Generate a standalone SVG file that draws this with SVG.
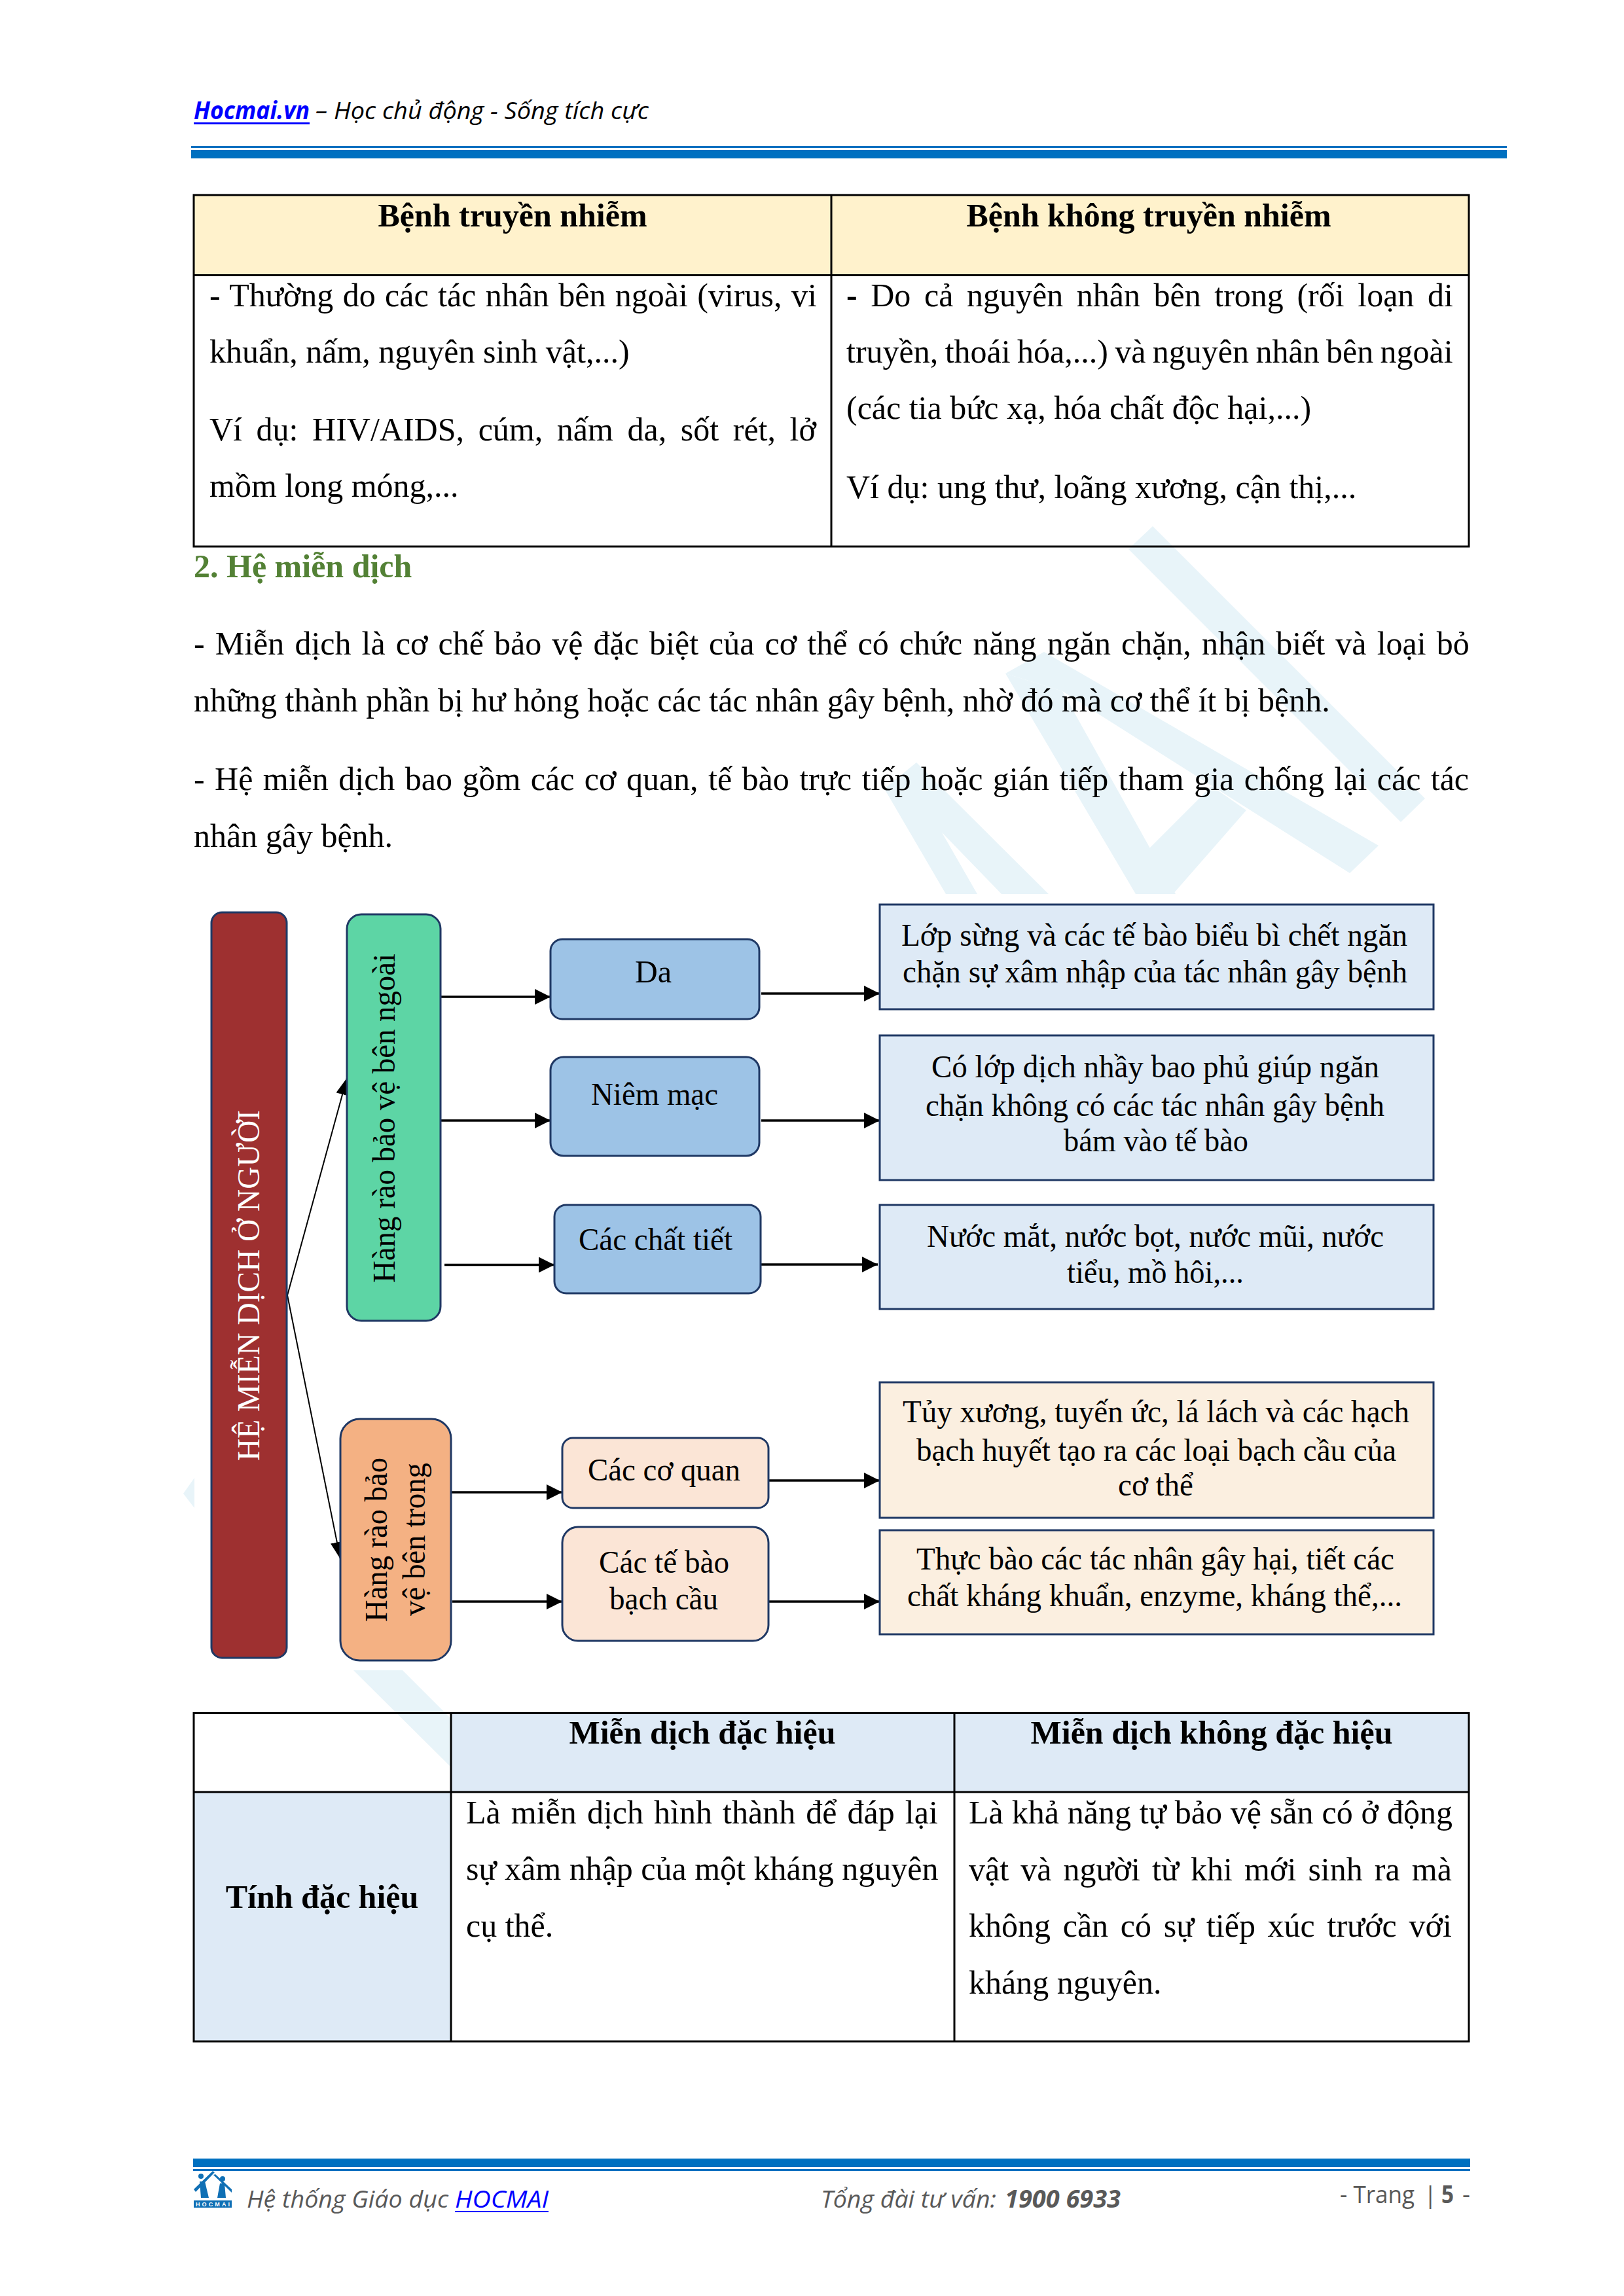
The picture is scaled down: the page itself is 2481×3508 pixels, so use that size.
<svg xmlns="http://www.w3.org/2000/svg" width="2481" height="3508" viewBox="0 0 2481 3508">
<style>
text{font-family:"Liberation Serif","Noto Sans CJK SC",serif;font-size:50px;fill:#000}
.b{font-weight:bold}
.d{font-size:48px}
.s{font-family:"Open Sans","Noto Sans",sans-serif;font-size:37px;fill:#595959}
.i{font-style:italic}
.wm{fill:#E8F4F9}
.grid{fill:none;stroke:#000;stroke-width:3}
.node{stroke:#1F3864;stroke-width:3}
.line{fill:none;stroke:#000;stroke-width:3.5;marker-end:url(#arrow)}
.thin{fill:none;stroke:#000;stroke-width:2;marker-end:url(#arrowThin)}
.blue{fill:#0000FF}
.rule{fill:#0070C0}
</style>
<defs>
<marker id="arrow" markerUnits="userSpaceOnUse" markerWidth="24" markerHeight="24" refX="24" refY="12" orient="auto"><path d="M0,0L24,12L0,24z" fill="#000"/></marker>
<marker id="arrowThin" markerUnits="userSpaceOnUse" markerWidth="26" markerHeight="20" refX="26" refY="10" orient="auto"><path d="M0,0L26,10L0,20z" fill="#000"/></marker>
</defs>
<rect width="2481" height="3508" fill="#fff"/>
<g id="watermark">
<polygon class="wm" points="1761,804 2177,1220 2140,1256 1724,839"/>
<polygon class="wm" points="1595,996 2106,1292 2062,1334 1623,1056 1536,1029"/>
<polygon class="wm" points="1536,1029 1623,1056 1796,1366 1735,1366"/>
<polygon class="wm" points="1754,1298 1851,1201 1904,1238 1792,1366 1760,1366"/>
<polygon class="wm" points="1400,1165 1602,1366 1530,1366 1439,1272 1493,1366 1445,1366 1351,1205"/>
<rect x="297" y="1366" width="1905" height="1186" fill="#fff"/>
<polygon class="wm" points="297,2258 280,2282 297,2304"/>
<polygon class="wm" points="540,2552 615,2552 689,2626 689,2700"/>
</g>
<g id="page-header">
<text class="s i b blue" x="296" y="182" textLength="177" lengthAdjust="spacingAndGlyphs">Hocmai.vn</text>
<rect class="blue" x="296" y="187" width="177" height="3"/>
<text class="s i" style="fill:#000" x="482" y="182" textLength="509" lengthAdjust="spacingAndGlyphs">– Học chủ động - Sống tích cực</text>
<rect class="rule" x="292" y="223" width="2010" height="3"/>
<rect class="rule" x="292" y="229" width="2010" height="13"/>
</g>
<g id="table-1">
<rect x="296" y="298" width="974" height="122" fill="#FFF2CC"/>
<rect x="1270" y="298" width="974" height="122" fill="#FFF2CC"/>
<rect class="grid" x="296" y="298" width="1948" height="537"/>
<path class="grid" d="M296,420.500H2244M1270,298V835"/>
<text class="b" x="783" y="346" text-anchor="middle">Bệnh truyền nhiễm</text>
<text class="b" x="1755" y="346" text-anchor="middle">Bệnh không truyền nhiễm</text>
<text x="320" y="468" word-spacing="1.9">- Thường do các tác nhân bên ngoài (virus, vi</text>
<text x="320" y="554">khuẩn, nấm, nguyên sinh vật,...)</text>
<text x="320" y="673" word-spacing="9.1">Ví dụ: HIV/AIDS, cúm, nấm da, sốt rét, lở</text>
<text x="320" y="759">mồm long móng,...</text>
<text x="1293" y="468" word-spacing="8.1"><tspan class="b">-</tspan> Do cả nguyên nhân bên trong (rối loạn di</text>
<text x="1293" y="554" word-spacing="-2.1">truyền, thoái hóa,...) và nguyên nhân bên ngoài</text>
<text x="1293" y="640">(các tia bức xạ, hóa chất độc hại,...)</text>
<text x="1293" y="761">Ví dụ: ung thư, loãng xương, cận thị,...</text>
</g>
<g id="section-text">
<text class="b" style="fill:#538135" x="296" y="882">2. Hệ miễn dịch</text>
<text x="296" y="1000" word-spacing="3.6">- Miễn dịch là cơ chế bảo vệ đặc biệt của cơ thể có chức năng ngăn chặn, nhận biết và loại bỏ</text>
<text x="296" y="1087">những thành phần bị hư hỏng hoặc các tác nhân gây bệnh, nhờ đó mà cơ thể ít bị bệnh.</text>
<text x="296" y="1207" word-spacing="2.95">- Hệ miễn dịch bao gồm các cơ quan, tế bào trực tiếp hoặc gián tiếp tham gia chống lại các tác</text>
<text x="296" y="1294">nhân gây bệnh.</text>
</g>
<g id="connectors">
<path class="thin" d="M439,1979L530,1647"/>
<path class="thin" d="M439,1979L520,2382"/>
<path class="line" d="M673,1523H841"/>
<path class="line" d="M673,1712H841"/>
<path class="line" d="M679,1932.500H847"/>
<path class="line" d="M689,2280H859"/>
<path class="line" d="M691,2447H859"/>
<path class="line" d="M1163,1518H1344"/>
<path class="line" d="M1163,1712H1344"/>
<path class="line" d="M1161,1932H1341"/>
<path class="line" d="M1174,2262H1344"/>
<path class="line" d="M1174,2447H1344"/>
</g>
<g id="node-he-mien-dich">
<rect class="node" x="323" y="1394" width="115" height="1139" rx="16" fill="#9E3030"/>
<text class="d" style="fill:#fff" transform="translate(396,2232) rotate(-90)" textLength="536" lengthAdjust="spacingAndGlyphs">HỆ MIỄN DỊCH Ở NGƯỜI</text>
</g>
<g id="node-ben-ngoai">
<rect class="node" x="530" y="1397" width="143" height="621" rx="22" fill="#5DD5A5"/>
<text class="d" transform="translate(603,1960) rotate(-90)" textLength="503" lengthAdjust="spacingAndGlyphs">Hàng rào bảo vệ bên ngoài</text>
</g>
<g id="node-ben-trong">
<rect class="node" x="520" y="2168" width="169" height="369" rx="30" fill="#F4B183"/>
<text class="d" transform="translate(591,2478) rotate(-90)" textLength="251" lengthAdjust="spacingAndGlyphs">Hàng rào bảo</text>
<text class="d" transform="translate(649,2469) rotate(-90)" textLength="234" lengthAdjust="spacingAndGlyphs">vệ bên trong</text>
</g>
<g id="node-da">
<rect class="node" x="841" y="1435" width="319" height="122" rx="18" fill="#9DC3E6"/>
<text class="d" x="970" y="1501" textLength="56" lengthAdjust="spacingAndGlyphs">Da</text>
</g>
<g id="node-niem-mac">
<rect class="node" x="841" y="1615" width="319" height="151" rx="20" fill="#9DC3E6"/>
<text class="d" x="903" y="1688" textLength="194" lengthAdjust="spacingAndGlyphs">Niêm mạc</text>
</g>
<g id="node-chat-tiet">
<rect class="node" x="847" y="1841" width="315" height="135" rx="18" fill="#9DC3E6"/>
<text class="d" x="884" y="1910" textLength="235" lengthAdjust="spacingAndGlyphs">Các chất tiết</text>
</g>
<g id="node-co-quan">
<rect class="node" x="859" y="2197" width="315" height="107" rx="16" fill="#FBE5D6"/>
<text class="d" x="898" y="2262" textLength="233" lengthAdjust="spacingAndGlyphs">Các cơ quan</text>
</g>
<g id="node-te-bao">
<rect class="node" x="859" y="2333" width="315" height="174" rx="24" fill="#FBE5D6"/>
<text class="d" x="915" y="2403" textLength="199" lengthAdjust="spacingAndGlyphs">Các tế bào</text>
<text class="d" x="931" y="2459" textLength="166" lengthAdjust="spacingAndGlyphs">bạch cầu</text>
</g>
<g id="node-desc-1">
<rect class="node" x="1344" y="1382" width="846" height="160" fill="#DEEAF6"/>
<text class="d" x="1377" y="1445" textLength="773" lengthAdjust="spacingAndGlyphs">Lớp sừng và các tế bào biểu bì chết ngăn</text>
<text class="d" x="1379" y="1501" textLength="771" lengthAdjust="spacingAndGlyphs">chặn sự xâm nhập của tác nhân gây bệnh</text>
</g>
<g id="node-desc-2">
<rect class="node" x="1344" y="1582" width="846" height="221" fill="#DEEAF6"/>
<text class="d" x="1423" y="1646" textLength="684" lengthAdjust="spacingAndGlyphs">Có lớp dịch nhầy bao phủ giúp ngăn</text>
<text class="d" x="1414" y="1705" textLength="701" lengthAdjust="spacingAndGlyphs">chặn không có các tác nhân gây bệnh</text>
<text class="d" x="1625" y="1759" textLength="282" lengthAdjust="spacingAndGlyphs">bám vào tế bào</text>
</g>
<g id="node-desc-3">
<rect class="node" x="1344" y="1841" width="846" height="159" fill="#DEEAF6"/>
<text class="d" x="1416" y="1905" textLength="698" lengthAdjust="spacingAndGlyphs">Nước mắt, nước bọt, nước mũi, nước</text>
<text class="d" x="1630" y="1960" textLength="270" lengthAdjust="spacingAndGlyphs">tiểu, mồ hôi,...</text>
</g>
<g id="node-desc-4">
<rect class="node" x="1344" y="2112" width="846" height="207" fill="#FBEFE0"/>
<text class="d" x="1379" y="2173" textLength="774" lengthAdjust="spacingAndGlyphs">Tủy xương, tuyến ức, lá lách và các hạch</text>
<text class="d" x="1400" y="2232" textLength="733" lengthAdjust="spacingAndGlyphs">bạch huyết tạo ra các loại bạch cầu của</text>
<text class="d" x="1708" y="2285" textLength="115" lengthAdjust="spacingAndGlyphs">cơ thể</text>
</g>
<g id="node-desc-5">
<rect class="node" x="1344" y="2338" width="846" height="159" fill="#FBEFE0"/>
<text class="d" x="1400" y="2398" textLength="730" lengthAdjust="spacingAndGlyphs">Thực bào các tác nhân gây hại, tiết các</text>
<text class="d" x="1386" y="2454" textLength="756" lengthAdjust="spacingAndGlyphs">chất kháng khuẩn, enzyme, kháng thể,...</text>
</g>
<g id="table-2">
<rect x="689" y="2617" width="1555" height="121" fill="#DEEAF6"/>
<rect x="296" y="2738" width="393" height="381" fill="#DEEAF6"/>
<rect class="grid" x="296" y="2617.500" width="1948" height="501.500"/>
<path class="grid" d="M296,2738H2244M689,2617V3119M1458,2617V3119"/>
<text class="b" x="1073" y="2664" text-anchor="middle">Miễn dịch đặc hiệu</text>
<text class="b" x="1851" y="2664" text-anchor="middle">Miễn dịch không đặc hiệu</text>
<text class="b" x="492" y="2915" text-anchor="middle">Tính đặc hiệu</text>
<text x="712" y="2786" word-spacing="3.6">Là miễn dịch hình thành để đáp lại</text>
<text x="712" y="2872">sự xâm nhập của một kháng nguyên</text>
<text x="712" y="2959">cụ thể.</text>
<text x="1480" y="2786" word-spacing="0.4">Là khả năng tự bảo vệ sẵn có ở động</text>
<text x="1480" y="2873" word-spacing="5.6">vật và người từ khi mới sinh ra mà</text>
<text x="1480" y="2959" word-spacing="6.2">không cần có sự tiếp xúc trước với</text>
<text x="1480" y="3046">kháng nguyên.</text>
</g>
<g id="page-footer">
<rect class="rule" x="295" y="3298" width="1951" height="13"/>
<rect class="rule" x="295" y="3314" width="1951" height="3"/>
<g id="logo" fill="#1070B5">
<polygon points="325,3317 328,3319 299,3349 296,3345"/>
<polygon points="326,3323 329,3322 354,3345 354,3350"/>
<circle cx="307" cy="3325" r="4"/>
<circle cx="340" cy="3329" r="4"/>
<polygon points="305,3333 313,3333 319,3358 307,3358"/>
<polygon points="336,3336 343,3336 345,3358 332,3358"/>
<rect x="296" y="3362" width="58" height="11"/>
<text x="299" y="3371" style="font-family:'Liberation Sans',sans-serif;font-size:9px;font-weight:bold;fill:#fff" textLength="52" lengthAdjust="spacing">HOCMAI</text>
</g>
<text class="s i" x="377" y="3373" textLength="308" lengthAdjust="spacingAndGlyphs">Hệ thống Giáo dục</text>
<text class="s i blue" x="695" y="3373" textLength="143" lengthAdjust="spacingAndGlyphs">HOCMAI</text>
<rect class="blue" x="695" y="3378" width="143" height="2"/>
<text class="s i" x="1254" y="3373" textLength="268" lengthAdjust="spacingAndGlyphs">Tổng đài tư vấn:</text>
<text class="s i b" x="1535" y="3373" textLength="177" lengthAdjust="spacingAndGlyphs">1900 6933</text>
<text class="s" x="2047" y="3366" textLength="114" lengthAdjust="spacingAndGlyphs">- Trang</text>
<text class="s" x="2175" y="3366">|</text>
<text class="s b" x="2202" y="3366" textLength="19" lengthAdjust="spacingAndGlyphs">5</text>
<text class="s" x="2234" y="3366" textLength="12" lengthAdjust="spacingAndGlyphs">-</text>
</g>
</svg>
